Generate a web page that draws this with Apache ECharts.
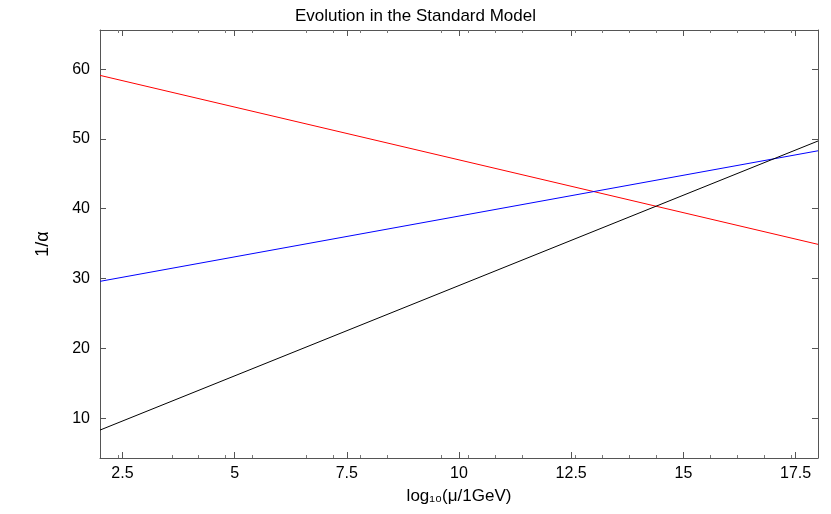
<!DOCTYPE html>
<html>
<head>
<meta charset="utf-8">
<script src="https://cdn.jsdelivr.net/npm/echarts@6/dist/echarts.min.js"></script>
<style>html,body{margin:0;padding:0;background:#fff}</style>
</head>
<body>
<div id="chart" style="width:831px;height:514px;"></div>
<script>
var xTicks = [2.5, 5, 7.5, 10, 12.5, 15, 17.5];
var yTicks = [10, 20, 30, 40, 50, 60];
var redLine = [[2, 59.1], [18, 34.9]];
var blueLine = [[2, 29.6], [18, 48.3]];
var blackLine = [[2, 8.3], [18, 49.7]];

var font = 'Liberation Sans, Arial, sans-serif';
var frameLine = {show: true, onZero: false, lineStyle: {color: '#555', width: 1}};
function xAxisDef(pos, labels) {
    return {
        type: 'value', position: pos, min: 2, max: 18,
        axisLine: frameLine,
        axisTick: {show: true, inside: true, length: 6, customValues: xTicks, lineStyle: {color: '#555'}},
        minorTick: {show: true, splitNumber: 5, length: 3, lineStyle: {color: '#777'}},
        axisLabel: {show: labels, customValues: xTicks, color: '#000', fontSize: 16, fontFamily: font, margin: 8},
        splitLine: {show: false},
        name: labels ? 'log₁₀(μ/1GeV)' : '', nameLocation: 'middle', nameGap: 30,
        nameTextStyle: {color: '#000', fontSize: 17, fontFamily: font}
    };
}
function yAxisDef(pos, labels) {
    return {
        type: 'value', position: pos, min: 4.3, max: 65.6,
        axisLine: frameLine,
        axisTick: {show: true, inside: true, length: 6, customValues: yTicks, lineStyle: {color: '#555'}},
        axisLabel: {show: labels, customValues: yTicks, color: '#000', fontSize: 16, fontFamily: font, margin: 10},
        splitLine: {show: false},
        name: labels ? '1/α' : '', nameLocation: 'middle', nameGap: 48,
        nameTextStyle: {color: '#000', fontSize: 18, fontFamily: font}
    };
}
var chart = echarts.init(document.getElementById('chart'));
chart.setOption({
    animation: false,
    title: {text: 'Evolution in the Standard Model', left: 'center', top: 3,
        textStyle: {color: '#000', fontSize: 17, fontWeight: 'normal', fontFamily: font}},
    grid: {left: 100, right: 13, top: 30, bottom: 56},
    xAxis: [xAxisDef('bottom', true), xAxisDef('top', false)],
    yAxis: [yAxisDef('left', true), yAxisDef('right', false)],
    series: [
        {type: 'line', data: redLine, symbol: 'none', lineStyle: {color: '#ff0000', width: 1}},
        {type: 'line', data: blueLine, symbol: 'none', lineStyle: {color: '#0000ff', width: 1}},
        {type: 'line', data: blackLine, symbol: 'none', lineStyle: {color: '#000', width: 1}}
    ]
});
</script>
</body>
</html>
